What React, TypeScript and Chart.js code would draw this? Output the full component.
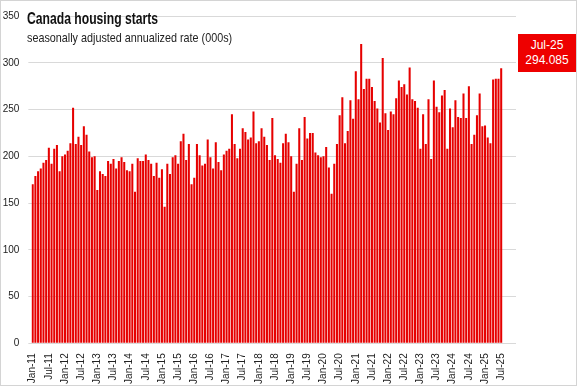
import React, { useEffect, useRef } from "react";
import { Chart, registerables } from "chart.js";

Chart.register(...registerables);

const MONTHS = ["Jan", "Feb", "Mar", "Apr", "May", "Jun", "Jul", "Aug", "Sep", "Oct", "Nov", "Dec"];
const YEARS = [11, 12, 13, 14, 15, 16, 17, 18, 19, 20, 21, 22, 23, 24, 25];

// Axis runs through Dec-25; data ends at Jul-25
const categories: string[] = YEARS.flatMap((y) => MONTHS.map((m) => `${m}-${y}`));

// Housing starts, SAAR, thousands (Jan-11 .. Jul-25)
const starts2011 = [170, 179, 184, 187, 193, 196, 209, 192, 208, 212, 184, 200];
const starts2012 = [202, 206, 214, 252, 213, 221, 212, 232, 223, 205, 199, 200];
const starts2013 = [164, 184, 181, 179, 195, 192, 197, 187, 195, 199, 194, 185];
const starts2014 = [184, 192, 162, 198, 195, 195, 202, 196, 192, 179, 193, 177];
const starts2015 = [186, 146, 192, 181, 199, 201, 192, 216, 224, 196, 213, 170];
const starts2016 = [177, 213, 201, 190, 192, 218, 199, 187, 215, 194, 185, 202];
const starts2017 = [206, 208, 245, 213, 198, 208, 230, 226, 218, 220, 248, 214];
const starts2018 = [216, 230, 221, 212, 196, 241, 201, 197, 193, 214, 224, 215];
const starts2019 = [200, 162, 192, 230, 196, 242, 219, 225, 225, 204, 201, 199];
const starts2020 = [200, 210, 188, 160, 192, 213, 244, 263, 214, 227, 260, 240];
const starts2021 = [291, 261, 320, 272, 283, 283, 274, 259, 251, 236, 305, 246];
const starts2022 = [228, 248, 245, 262, 281, 274, 277, 266, 295, 261, 259, 252];
const starts2023 = [208, 245, 213, 261, 197, 281, 253, 247, 265, 271, 208, 251];
const starts2024 = [231, 260, 242, 241, 267, 241, 275, 213, 223, 244, 267, 232];
const starts2025 = [233, 220, 214, 282, 283, 283, 294.085];

const starts: (number | null)[] = [
  ...starts2011, ...starts2012, ...starts2013, ...starts2014, ...starts2015,
  ...starts2016, ...starts2017, ...starts2018, ...starts2019, ...starts2020,
  ...starts2021, ...starts2022, ...starts2023, ...starts2024, ...starts2025,
];
while (starts.length < categories.length) starts.push(null);

const Y_MIN = 0;
const Y_MAX = 350;
const Y_STEP = 50;
const TICK_EVERY = 6;

const lastIndex = starts2011.length * 14 + starts2025.length - 1;
const lastLabel = categories[lastIndex];
const lastValue = starts[lastIndex] as number;

const TITLE = "Canada housing starts";
const SUBTITLE = "seasonally adjusted annualized rate (000s)";

const RED = "#e60000";
const GRID = "#d9d9d9";

export default function App() {
  const ref = useRef<HTMLCanvasElement>(null);

  useEffect(() => {
    document.body.style.margin = "0";
    const chart = new Chart(ref.current!, {
      type: "bar",
      data: {
        labels: categories,
        datasets: [
          {
            data: starts,
            backgroundColor: RED,
            borderWidth: 0,
            barPercentage: 0.76,
            categoryPercentage: 1,
          },
        ],
      },
      options: {
        animation: false,
        responsive: false,
        maintainAspectRatio: false,
        layout: { padding: { top: 10, right: 60, left: 0, bottom: 0 } },
        plugins: { legend: { display: false }, tooltip: { enabled: false }, title: { display: false } },
        scales: {
          x: {
            grid: { display: false, drawTicks: false },
            border: { display: false },
            afterFit: (s: any) => {
              s.height = 41.7;
            },
            ticks: {
              autoSkip: false,
              maxRotation: 90,
              minRotation: 90,
              padding: 10,
              color: "#222",
              font: { family: "'Liberation Sans', Arial, sans-serif", size: 10 },
              callback: (_v: any, i: number) => (i % TICK_EVERY === 0 && starts[i] != null ? categories[i] : ""),
            },
          },
          y: {
            min: Y_MIN,
            max: Y_MAX,
            afterFit: (s: any) => {
              s.width = 30.35;
            },
            grid: { color: GRID, drawTicks: true, tickLength: 3, lineWidth: 1 },
            border: { display: false },
            ticks: {
              stepSize: Y_STEP,
              padding: 9,
              color: "#222",
              font: { family: "'Liberation Sans', Arial, sans-serif", size: 10 },
            },
          },
        },
      },
    });
    return () => chart.destroy();
  }, []);

  return (
    <div style={{ position: "absolute", left: 0, top: 0, width: 577, height: 386, background: "#fff" }}>
      <canvas ref={ref} width={575} height={384} style={{ position: "absolute", left: 1, top: 1, width: 575, height: 384 }} />
      <div
        style={{
          position: "absolute",
          left: 0,
          top: 0,
          width: 577,
          height: 386,
          boxSizing: "border-box",
          border: "1px solid #d4d4d4",
          pointerEvents: "none",
        }}
      />
      <div
        style={{
          position: "absolute",
          left: 27,
          top: 11,
          fontFamily: "'Liberation Sans', Arial, sans-serif",
          fontWeight: "bold",
          fontSize: 16,
          lineHeight: "16px",
          color: "#111",
          whiteSpace: "nowrap",
          transform: "scaleX(0.76)",
          transformOrigin: "0 0",
        }}
      >
        {TITLE}
      </div>
      <div
        style={{
          position: "absolute",
          left: 27,
          top: 31,
          fontFamily: "'Liberation Sans', Arial, sans-serif",
          fontSize: 13,
          lineHeight: "13px",
          color: "#222",
          whiteSpace: "nowrap",
          transform: "scaleX(0.83)",
          transformOrigin: "0 0",
        }}
      >
        {SUBTITLE}
      </div>
      <div
        style={{
          position: "absolute",
          left: 518,
          top: 34,
          width: 58,
          height: 38,
          background: "#ee0000",
          color: "#fff",
          fontFamily: "'Liberation Sans', Arial, sans-serif",
          fontSize: 12,
          lineHeight: "15px",
          textAlign: "center",
          paddingTop: 4,
          boxSizing: "border-box",
        }}
      >
        <div>{lastLabel}</div>
        <div>{lastValue.toFixed(3)}</div>
      </div>
    </div>
  );
}
